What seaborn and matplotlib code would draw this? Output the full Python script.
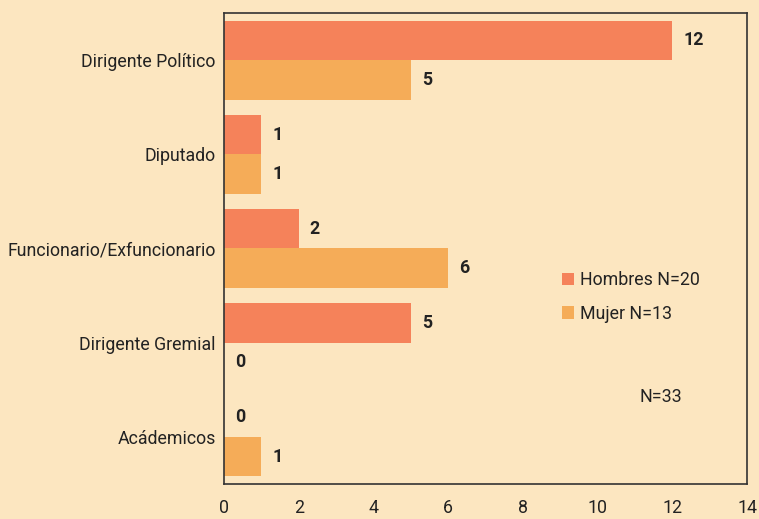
import pandas as pd
import seaborn as sns
import matplotlib.pyplot as plt

# --- DATA ---
categories = ["Dirigente Político", "Diputado", "Funcionario/Exfuncionario",
              "Dirigente Gremial", "Acádemicos"]
hombres = [12, 1, 2, 5, 0]
mujeres = [5, 1, 6, 0, 1]
series_names = ["Hombres N=20", "Mujer N=13"]

BG = "#FCE6C0"
COLORS = ["#F5825A", "#F5AC58"]

df = pd.DataFrame({
    "cat": categories * 2,
    "valor": hombres + mujeres,
    "grupo": [series_names[0]] * len(categories) + [series_names[1]] * len(categories),
})

sns.set_style("white")
plt.rcParams['font.family'] = ['Roboto', 'DejaVu Sans']
FS = 12.8

fig = plt.figure(figsize=(7.59, 5.19), dpi=100, facecolor=BG)
ax = fig.add_axes([0.2951, 0.0674, 0.6891, 0.9076])
ax.set_facecolor(BG)

sns.barplot(data=df, y="cat", x="valor", hue="grupo", orient="h",
            palette=COLORS, width=0.84, saturation=1, linewidth=0, ax=ax)

for cont in ax.containers:
    ax.bar_label(cont, padding=8, fontsize=FS, fontweight="bold", color="#222222")

ax.set_xlim(0, 14)
ax.set_ylim(4.5, -0.5)
ax.set_xticks(range(0, 15, 2))
ax.set_xlabel("")
ax.set_ylabel("")
ax.tick_params(axis="both", length=0, labelsize=FS, colors="#222222")
ax.tick_params(axis="x", pad=11)
ax.tick_params(axis="y", pad=6)
for s in ax.spines.values():
    s.set_color("#333333")
    s.set_linewidth(1.2)

leg = ax.legend(loc="center left", bbox_to_anchor=(0.646, 0.397), frameon=False,
                fontsize=FS, handlelength=0.7, handleheight=0.7,
                handletextpad=0.3, labelspacing=0.85, borderpad=0, borderaxespad=0)
for t in leg.get_texts():
    t.set_color("#222222")

ax.text(0.835, 0.185, "N=33", transform=ax.transAxes, fontsize=FS,
        color="#222222", ha="center", va="center")

fig.savefig("out.png", dpi=100, facecolor=BG)
